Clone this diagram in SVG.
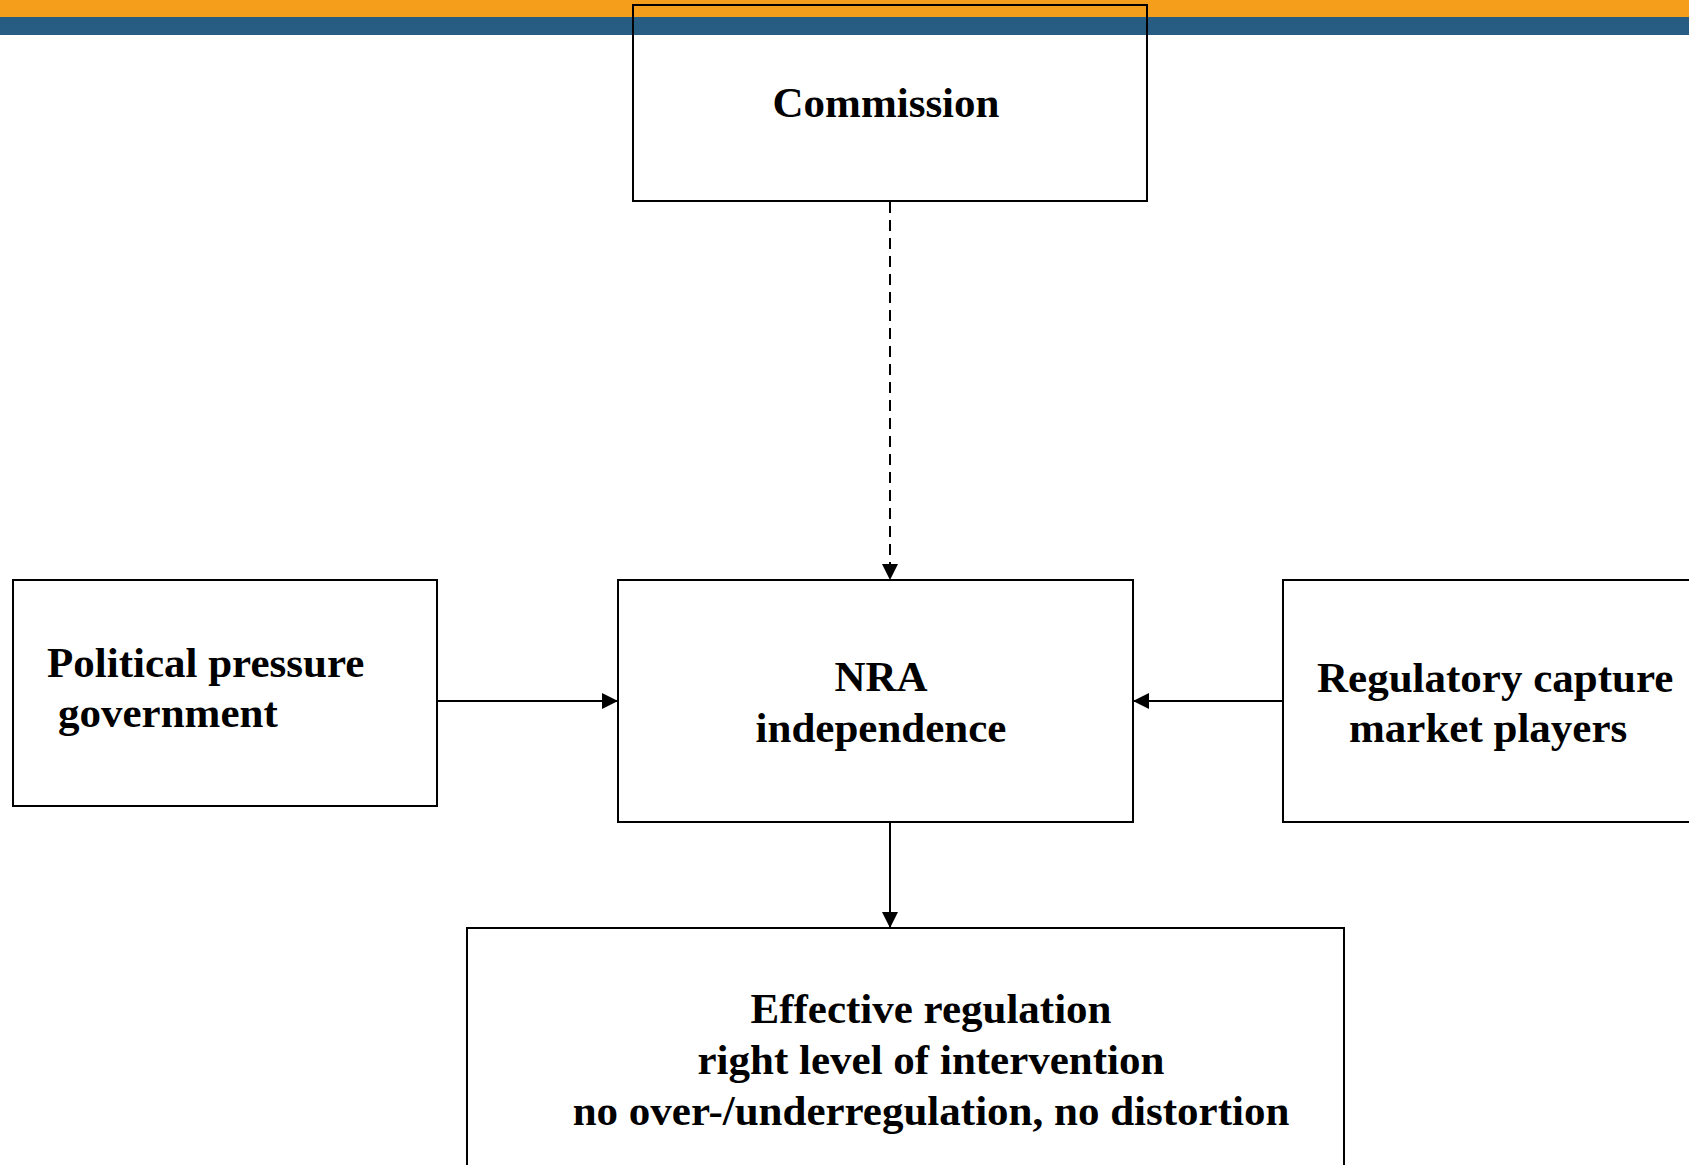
<svg xmlns="http://www.w3.org/2000/svg" width="1689" height="1165" viewBox="0 0 1689 1165">
<style>
.box{fill:none;stroke:#000;stroke-width:2}
.t{font-family:"Liberation Serif","Times New Roman",serif;font-weight:bold;font-size:43px;fill:#000}
.c{text-anchor:middle}
.ln{stroke:#000;stroke-width:2;fill:none}
</style>
<defs>
<marker id="ah" markerWidth="16" markerHeight="16" refX="16" refY="8" orient="auto" markerUnits="userSpaceOnUse">
<path d="M0,0 L16,8 L0,16 Z" fill="#000"/>
</marker>
</defs>
<rect x="0" y="0" width="1689" height="1165" fill="#fff"/>
<rect x="0" y="0" width="1689" height="17" fill="#F49E1B"/>
<rect x="0" y="17" width="1689" height="18" fill="#275D82"/>
<g id="connectors">
<line class="ln" x1="890" y1="202" x2="890" y2="580" stroke-dasharray="11 7" marker-end="url(#ah)"/>
<line class="ln" x1="437" y1="701" x2="618" y2="701" marker-end="url(#ah)"/>
<line class="ln" x1="1283" y1="701" x2="1133" y2="701" marker-end="url(#ah)"/>
<line class="ln" x1="890" y1="822" x2="890" y2="928" marker-end="url(#ah)"/>
</g>
<g id="commission">
<rect class="box" x="633" y="5" width="514" height="196"/>
<text class="t c" x="886" y="117">Commission</text>
</g>
<g id="nra">
<rect class="box" x="618" y="580" width="515" height="242"/>
<text class="t c" x="881" y="691">NRA</text>
<text class="t c" x="881" y="742">independence</text>
</g>
<g id="political">
<rect class="box" x="13" y="580" width="424" height="226"/>
<text class="t" x="47" y="677">Political pressure</text>
<text class="t" x="58" y="727">government</text>
</g>
<g id="regulatory">
<rect class="box" x="1283" y="580" width="420" height="242"/>
<text class="t" x="1317" y="692">Regulatory capture</text>
<text class="t" x="1349" y="742">market players</text>
</g>
<g id="effective">
<rect class="box" x="467" y="928" width="877" height="260"/>
<text class="t c" x="931" y="1023">Effective regulation</text>
<text class="t c" x="931" y="1074">right level of intervention</text>
<text class="t c" x="931" y="1125">no over-/underregulation, no distortion</text>
</g>
</svg>
